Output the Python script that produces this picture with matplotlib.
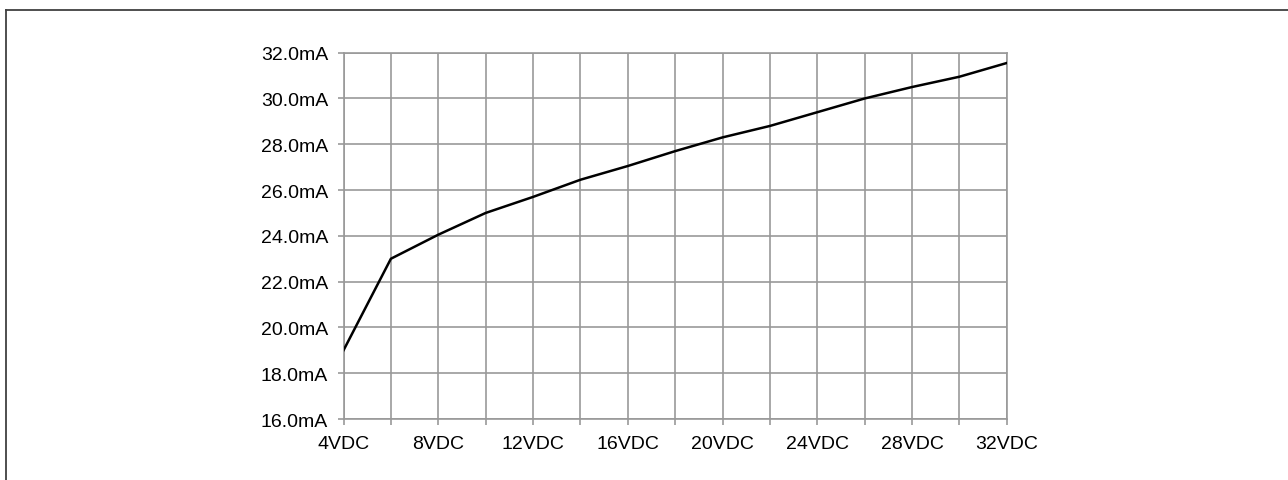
import matplotlib
matplotlib.use("Agg")
import matplotlib.pyplot as plt
from matplotlib.lines import Line2D

# supply voltage (VDC) vs current draw (mA)
volts = [4, 6, 8, 10, 12, 14, 16, 18, 20, 22, 24, 26, 28, 30, 32]
current = [19.0, 23.0, 24.05, 25.0, 25.7, 26.45, 27.05, 27.7, 28.3,
           28.8, 29.4, 30.0, 30.5, 30.95, 31.55]

x_ticks = [4, 8, 12, 16, 20, 24, 28, 32]
x_minor = [6, 10, 14, 18, 22, 26, 30]
y_ticks = [16, 18, 20, 22, 24, 26, 28, 30, 32]

plt.rcParams['font.family'] = ['Liberation Sans', 'DejaVu Sans']

grid_col = '#999999'

fig = plt.figure(figsize=(12.88, 4.81), dpi=100)
ax = fig.add_axes([0.2667, 0.1268, 0.515, 0.7616])

ax.plot(volts, current, color='black', lw=1.8, zorder=3)

ax.set_xlim(4, 32)
ax.set_ylim(16, 32)
ax.set_xticks(x_ticks)
ax.set_xticks(x_minor, minor=True)
ax.set_xticklabels([f"{v}VDC" for v in x_ticks])
ax.set_yticks(y_ticks)
ax.set_yticklabels([f"{v:.1f}mA" for v in y_ticks])

ax.grid(True, which='both', color=grid_col, lw=1.2)
ax.set_axisbelow(True)
for s in ax.spines.values():
    s.set_color(grid_col)
    s.set_linewidth(1.2)

ax.tick_params(axis='both', which='both', length=4.5, width=1.2, color=grid_col,
               labelsize=14, labelcolor='black')
ax.tick_params(axis='y', pad=6.5)
ax.tick_params(axis='x', pad=7)

# frame lines on top and left edge only
W, H = 1288, 481
fig.lines.append(Line2D([5.5 / W, 5.5 / W], [0, 1 - 10.5 / H], transform=fig.transFigure,
                        color='#404040', lw=1.3))
fig.lines.append(Line2D([5.5 / W, 1], [1 - 10.5 / H, 1 - 10.5 / H], transform=fig.transFigure,
                        color='#404040', lw=1.3))

fig.savefig('out.png', dpi=100)
